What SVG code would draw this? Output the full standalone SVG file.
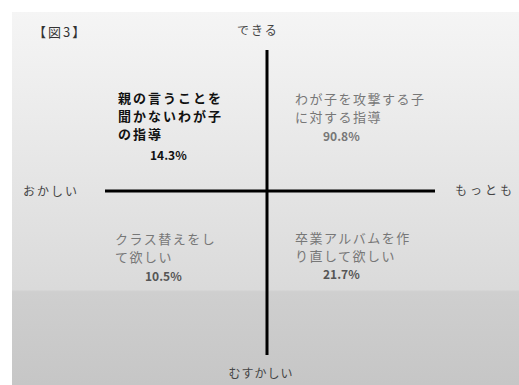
<svg xmlns="http://www.w3.org/2000/svg" width="519" height="385" viewBox="0 0 519 385">
  <defs>
    <linearGradient id="bg" x1="0" y1="0" x2="0" y2="1">
      <stop offset="0" stop-color="#f5f5f5"/>
      <stop offset="0.45" stop-color="#e5e5e5"/>
      <stop offset="0.744" stop-color="#dadada"/>
      <stop offset="0.75" stop-color="#cfcfcf"/>
      <stop offset="1" stop-color="#c6c6c6"/>
    </linearGradient>
  </defs>
  <style>
    text { font-family: "Noto Sans CJK JP", "Noto Sans", sans-serif; }
    .axis { font-size: 12px; fill: #444; }
    .dark { font-size: 13px; font-weight: bold; fill: #111; letter-spacing: 2px; }
    .gray { font-size: 13px; fill: #777; letter-spacing: 1.5px; }
    .pct { font-size: 12px; font-weight: bold; letter-spacing: 0; }
    .line { stroke: #000; stroke-width: 3; }
  </style>
  <rect x="0" y="0" width="519" height="385" fill="#ffffff"/>
  <rect x="12" y="12" width="507" height="373" fill="url(#bg)"/>

  <text x="33" y="37" letter-spacing="2" style="font-size:13px; fill:#333;">【図3】</text>

  <g id="connectors">
    <line class="line" x1="267" y1="50" x2="267" y2="355"/>
    <line class="line" x1="105" y1="191" x2="435" y2="191"/>
  </g>

  <g id="axis-top"><text class="axis" x="258" y="35" text-anchor="middle" letter-spacing="2">できる</text></g>
  <g id="axis-bottom"><text class="axis" x="261" y="378" text-anchor="middle" letter-spacing="1">むすかしい</text></g>
  <g id="axis-left"><text class="axis" x="23" y="196" letter-spacing="2">おかしい</text></g>
  <g id="axis-right"><text class="axis" x="455" y="195" letter-spacing="3">もっとも</text></g>

  <g id="q-top-left">
    <text class="dark" x="118" y="103">親の言うことを</text>
    <text class="dark" x="118" y="121">聞かないわが子</text>
    <text class="dark" x="118" y="139">の指導</text>
    <text class="dark pct" x="150" y="160">14.3%</text>
  </g>

  <g id="q-top-right">
    <text class="gray" x="295" y="104">わが子を攻撃する子</text>
    <text class="gray" x="295" y="122">に対する指導</text>
    <text class="gray pct" x="323" y="141">90.8%</text>
  </g>

  <g id="q-bottom-left">
    <text class="gray" x="115" y="244">クラス替えをし</text>
    <text class="gray" x="115" y="262">て欲しい</text>
    <text class="gray pct" x="145" y="281" style="fill:#555">10.5%</text>
  </g>

  <g id="q-bottom-right">
    <text class="gray" x="295" y="243">卒業アルバムを作</text>
    <text class="gray" x="295" y="261">り直して欲しい</text>
    <text class="gray pct" x="323" y="279" style="fill:#555">21.7%</text>
  </g>
</svg>
